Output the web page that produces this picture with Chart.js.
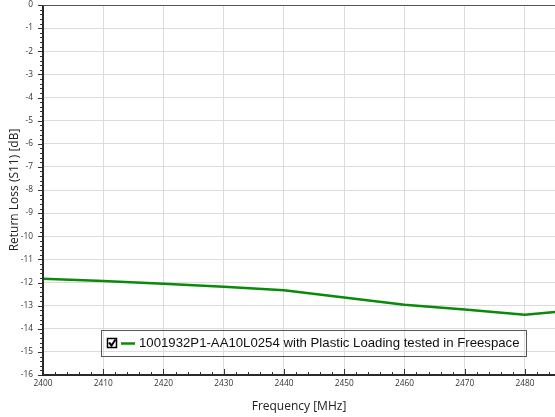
<!DOCTYPE html>
<html>
<head>
<meta charset="utf-8">
<script src="https://cdn.jsdelivr.net/npm/chart.js@4/dist/chart.umd.min.js"></script>
<style>
html,body{margin:0;padding:0;background:#fff;}
#wrap{width:555px;height:417px;position:relative;}
</style>
</head>
<body>
<div id="wrap"><canvas id="c" width="555" height="417"></canvas></div>
<script>
const frequencies = [2400, 2410, 2420, 2430, 2440, 2450, 2460, 2470, 2480, 2490];
const returnLoss = [-11.84, -11.93, -12.05, -12.18, -12.34, -12.65, -12.96, -13.17, -13.39, -13.17];
const seriesLabel = '1001932P1-AA10L0254 with Plastic Loading tested in Freespace';
const xTitle = 'Frequency [MHz]';
const yTitle = 'Return Loss (S11) [dB]';

const tickFont = {family: 'Open Sans', size: 8.3};
const titleFont = {family: 'Open Sans', size: 12};

const ticksPlugin = {
  id: 'minorTicks',
  afterDraw(chart) {
    const ctx = chart.ctx;
    const xs = chart.scales.x, ys = chart.scales.y;
    const a = chart.chartArea;
    ctx.save();
    ctx.strokeStyle = '#333';
    ctx.lineWidth = 1;
    for (let i = 0; i <= 80; i++) {
      const v = -i * 0.2;
      const py = Math.round(ys.getPixelForValue(v)) + 0.5;
      const len = (i % 5 === 0) ? 5 : 3;
      ctx.beginPath();
      ctx.moveTo(a.left - len, py);
      ctx.lineTo(a.left, py);
      ctx.stroke();
    }
    for (let f = 2400; f <= 2485; f += 2) {
      const px = Math.round(xs.getPixelForValue(f)) + 0.5;
      const len = ((f - 2400) % 10 === 0) ? 6 : 3;
      ctx.beginPath();
      ctx.moveTo(px, a.bottom);
      ctx.lineTo(px, a.bottom - len);
      ctx.stroke();
    }
    ctx.strokeStyle = '#2a2a2a';
    ctx.lineWidth = 2;
    ctx.beginPath();
    ctx.moveTo(a.left, a.top);
    ctx.lineTo(a.left, a.bottom);
    ctx.lineTo(a.right, a.bottom);
    ctx.stroke();
    ctx.lineWidth = 1;
    ctx.strokeStyle = '#555';
    ctx.beginPath();
    ctx.moveTo(a.left, a.top + 0.5);
    ctx.lineTo(a.right, a.top + 0.5);
    ctx.stroke();

    const ds = chart.data.datasets[0];
    ctx.strokeStyle = '#555';
    ctx.lineWidth = 1;
    ctx.strokeRect(101.5, 330.5, 425, 26);
    ctx.strokeStyle = '#000';
    ctx.lineWidth = 1.5;
    ctx.strokeRect(107.5, 338.5, 9, 9);
    ctx.lineWidth = 2;
    ctx.beginPath();
    ctx.moveTo(109, 342.5);
    ctx.lineTo(111.5, 345.5);
    ctx.lineTo(115.5, 339.5);
    ctx.stroke();
    ctx.strokeStyle = ds.borderColor;
    ctx.lineWidth = 2.5;
    ctx.beginPath();
    ctx.moveTo(121, 343.5);
    ctx.lineTo(135, 343.5);
    ctx.stroke();
    ctx.fillStyle = '#111';
    ctx.font = '13.2px "Liberation Sans", Arial, sans-serif';
    ctx.textBaseline = 'middle';
    ctx.textAlign = 'left';
    ctx.fillText(ds.label, 139, 343.5);
    ctx.restore();
  }
};

new Chart(document.getElementById('c'), {
  type: 'line',
  data: {
    datasets: [{
      label: seriesLabel,
      data: frequencies.map((f, i) => ({x: f, y: returnLoss[i]})),
      borderColor: '#0a8a0a',
      borderWidth: 2.5,
      pointRadius: 0,
      tension: 0,
      fill: false
    }]
  },
  options: {
    responsive: false,
    animation: false,
    devicePixelRatio: 1,
    layout: {padding: {top: 5, right: 0, left: 0, bottom: 0}},
    plugins: {legend: {display: false}, tooltip: {enabled: false}},
    scales: {
      x: {
        type: 'linear',
        min: 2400, max: 2485,
        afterFit(s) { s.height = 42; s.paddingLeft = 0; s.paddingRight = 0; },
        border: {display: false},
        grid: {color: '#dcdcdc', drawTicks: false},
        ticks: {
          stepSize: 10, includeBounds: false, padding: 4,
          font: tickFont, color: '#333', maxRotation: 0,
          callback: v => v
        },
        title: {display: true, text: xTitle, font: titleFont, color: '#222', padding: {top: 2, bottom: 3}}
      },
      y: {
        type: 'linear',
        min: -16, max: 0,
        afterFit(s) { s.width = 43; s.paddingTop = 0; s.paddingBottom = 0; },
        border: {display: false},
        grid: {color: '#dcdcdc', drawTicks: false},
        ticks: {stepSize: 1, padding: 10, font: tickFont, color: '#333'},
        title: {display: true, text: yTitle, font: titleFont, color: '#222', padding: {top: 7, bottom: 0}}
      }
    }
  },
  plugins: [ticksPlugin]
});
</script>
</body>
</html>
